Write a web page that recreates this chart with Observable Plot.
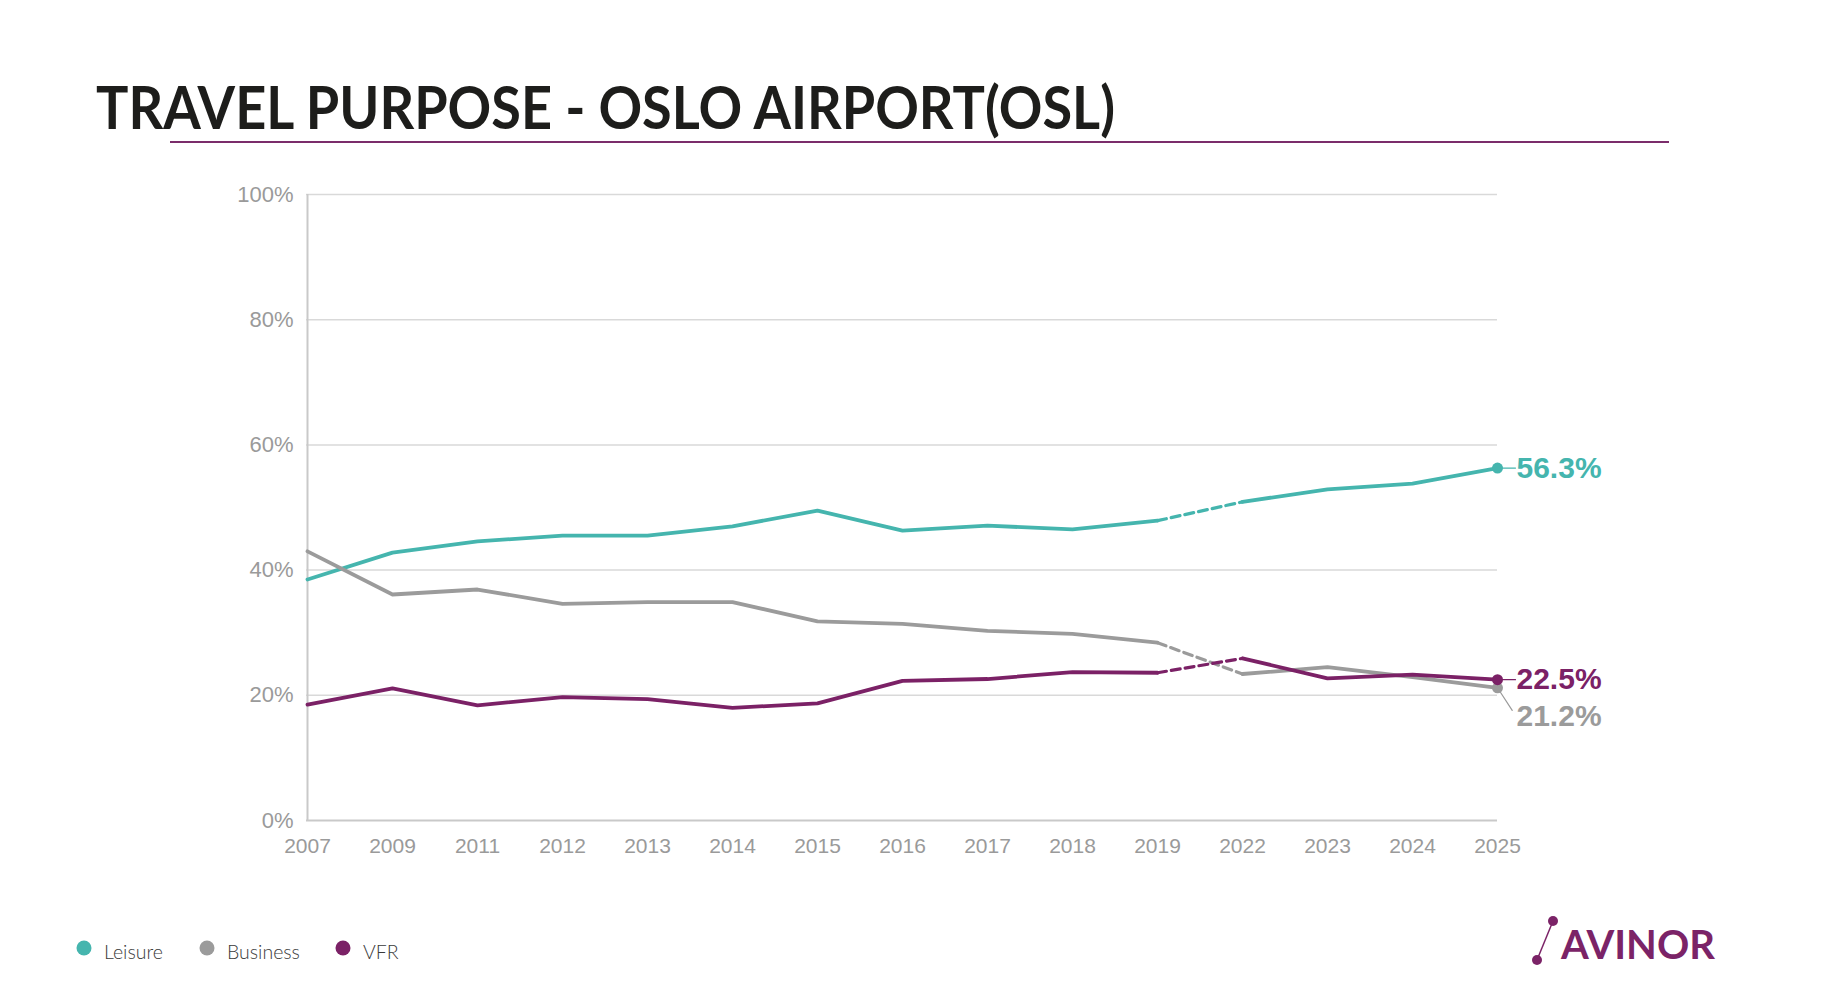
<!DOCTYPE html>
<html>
<head>
<meta charset="utf-8">
<script src="https://cdn.jsdelivr.net/npm/d3@7"></script>
<script src="https://cdn.jsdelivr.net/npm/@observablehq/plot@0.6"></script>
<style>
  html, body { margin: 0; padding: 0; background: #ffffff; }
  #page { position: relative; width: 1840px; height: 1008px; overflow: hidden; background: #fff; }
  #title { position: absolute; left: 96px; top: 77px; font-family: Lato, "Open Sans", sans-serif; font-weight: 700; font-size: 59px; line-height: 1; color: #1d1d1b; white-space: nowrap; transform-origin: left top; }
  #rule { position: absolute; left: 170px; top: 141px; width: 1499px; height: 2px; background: #7b2d6b; }
  #chart { position: absolute; left: 0; top: 150px; }
  #legend, #logo { position: absolute; }
</style>
</head>
<body>
<div id="page">
  <div id="title">TRAVEL PURPOSE - OSLO AIRPORT(OSL)</div>
  <div id="rule"></div>
  <div id="chart"></div>
  <svg id="legend" style="left:0;top:900px" width="600" height="100"></svg>
  <svg id="logo" style="left:1500px;top:900px" width="340" height="100">
    <line x1="53" y1="21" x2="37" y2="60" stroke="#7b2367" stroke-width="1.5"></line>
    <circle cx="53" cy="21" r="5" fill="#7b2367"></circle>
    <circle cx="37" cy="60" r="5" fill="#7b2367"></circle>
    <text x="61" y="59" font-family="Lato, 'Open Sans', sans-serif" font-weight="700" font-size="40" fill="#7b2367">AVINOR</text>
  </svg>
</div>
<script>
// ---- data ----
const years = ["2007","2009","2011","2012","2013","2014","2015","2016","2017","2018","2019","2022","2023","2024","2025"];
const seriesNames = ["Leisure", "Business", "VFR"];
const seriesColors = ["#45b5ae", "#9b9b9b", "#7b2166"];
const leisure  = [38.5, 42.8, 44.6, 45.5, 45.5, 47.0, 49.5, 46.3, 47.1, 46.5, 47.9, 50.9, 52.9, 53.8, 56.3];
const business = [43.0, 36.1, 36.9, 34.6, 34.9, 34.9, 31.8, 31.4, 30.3, 29.8, 28.4, 23.4, 24.5, 22.9, 21.2];
const vfr      = [18.5, 21.1, 18.4, 19.7, 19.4, 18.0, 18.7, 22.3, 22.6, 23.7, 23.6, 25.9, 22.7, 23.3, 22.5];
const yTicks = [0, 20, 40, 60, 80, 100];
const gapStart = "2019", gapEnd = "2022";

// ---- table ----
const valuesBySeries = {Leisure: leisure, Business: business, VFR: vfr};
const gapIndex = years.indexOf(gapEnd);
const rows = [];
for (const s of seriesNames) {
  valuesBySeries[s].forEach((v, i) => {
    rows.push({series: s, year: years[i], value: v, seg: i < gapIndex ? "a" : "b"});
  });
}
const lastYear = years[years.length - 1];
const lastRows = rows.filter(d => d.year === lastYear);
const gapRows = rows.filter(d => d.year === gapStart || d.year === gapEnd);

const lineShape = {draw(context, l) { context.moveTo(0, 0); context.lineTo(0, -l); }};

const chart = Plot.plot({
  width: 1840,
  height: 720,
  marginTop: 44,
  marginBottom: 50,
  marginLeft: 306,
  marginRight: 343,
  style: {fontFamily: "'Liberation Sans', Arial, sans-serif", background: "transparent", overflow: "visible"},
  x: {type: "point", domain: years, padding: 0},
  y: {domain: [0, 100]},
  color: {domain: seriesNames, range: seriesColors},
  marks: [
    Plot.ruleY(yTicks.filter(t => t > 0), {stroke: "#d9d9d9", strokeWidth: 1.5}),
    Plot.ruleY([0], {stroke: "#c9c9c9", strokeWidth: 2}),
    Plot.ruleX([years[0]], {y1: 0, y2: 100, stroke: "#c9c9c9", strokeWidth: 2}),
    Plot.axisY({ticks: yTicks, tickFormat: d => d + "%", tickSize: 0, tickPadding: 13, fontSize: 22, color: "#9a9a9a", label: null}),
    Plot.axisX({tickSize: 0, tickPadding: 18, fontSize: 21, color: "#9a9a9a", label: null}),
    Plot.line(rows, {x: "year", y: "value", z: d => d.series + d.seg, stroke: "series", strokeWidth: 3.8}),
    Plot.line(gapRows, {x: "year", y: "value", z: "series", stroke: "series", strokeWidth: 3.2, strokeDasharray: "9,5"}),
    Plot.vector(lastRows, {filter: d => d.series !== "Business", x: "year", y: "value", length: 18, rotate: 90, anchor: "start", stroke: "series", strokeWidth: 1.2, shape: lineShape}),
    Plot.vector(lastRows, {filter: d => d.series === "Business", x: "year", y: "value", length: 27, rotate: 147, anchor: "start", stroke: "series", strokeWidth: 1.2, shape: lineShape}),
    Plot.dot(lastRows, {x: "year", y: "value", fill: "series", r: 5.5}),
    Plot.text(lastRows, {filter: d => d.series !== "Business", x: "year", y: "value", text: d => d.value.toFixed(1) + "%", fill: "series", textAnchor: "start", dx: 19, fontSize: 30, fontWeight: "bold"}),
    Plot.text(lastRows, {filter: d => d.series === "Business", x: "year", y: "value", text: d => d.value.toFixed(1) + "%", fill: "series", textAnchor: "start", dx: 19, dy: 29, fontSize: 30, fontWeight: "bold"})
  ]
});
document.getElementById("chart").appendChild(chart);

// ---- legend ----
const legend = d3.select("#legend");
const legendX = [84, 207, 343];
seriesNames.forEach((s, i) => {
  legend.append("circle").attr("cx", legendX[i]).attr("cy", 48).attr("r", 7.5).attr("fill", seriesColors[i]);
  legend.append("text").attr("x", legendX[i] + 20).attr("y", 59)
    .attr("font-family", "Lato, 'Open Sans', sans-serif").attr("font-weight", 300)
    .attr("font-size", 19.5).attr("fill", "#3a3a3a").text(s);
});

// ---- title width fit ----
function fitTitle() {
  const t = document.getElementById("title");
  t.style.transform = "none";
  const w = t.getBoundingClientRect().width;
  if (w > 0) t.style.transform = "scaleX(" + (1019 / w) + ")";
}
fitTitle();
if (document.fonts && document.fonts.ready) document.fonts.ready.then(fitTitle);
</script>
</body>
</html>
